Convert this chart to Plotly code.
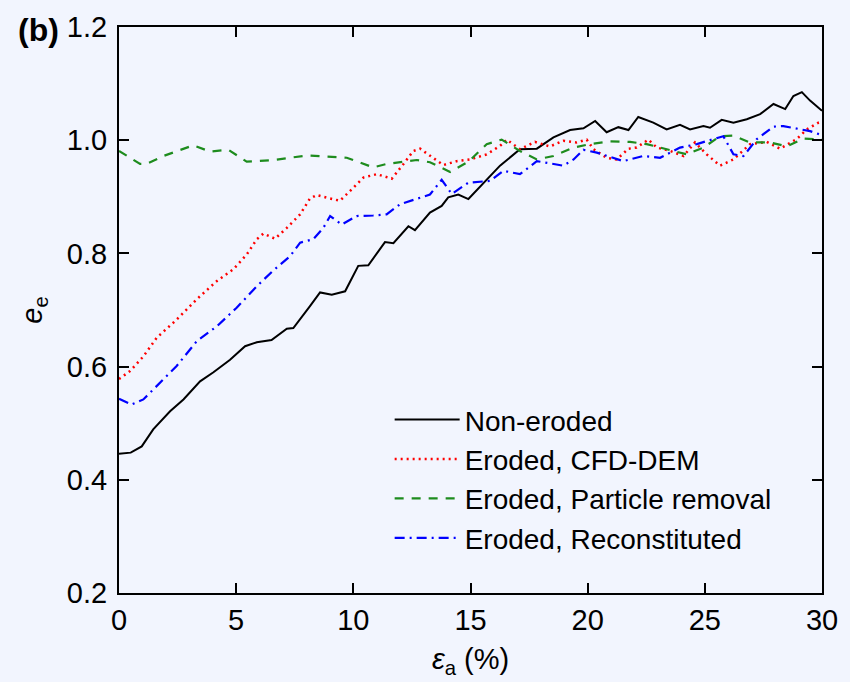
import plotly.graph_objects as go

x_non = [0.0, 0.5, 0.97, 1.46, 2.18, 2.75, 3.46, 4.03, 4.74, 5.38, 5.88, 6.51, 7.16, 7.44, 8.15, 8.58, 9.08, 9.65,
         10.21, 10.64, 11.35, 11.71, 12.35, 12.63, 13.27, 13.77, 14.05, 14.48, 14.91, 15.69, 16.26, 17.11, 17.83,
         18.54, 19.25, 19.82, 20.32, 20.81, 21.31, 21.74, 22.16, 22.8, 23.37, 23.94, 24.37, 24.94, 25.22, 25.72,
         26.22, 26.79, 27.36, 27.93, 28.43, 28.78, 29.14, 29.49, 30.0]
y_non = [0.446, 0.448, 0.459, 0.489, 0.521, 0.542, 0.574, 0.590, 0.612, 0.636, 0.643, 0.647, 0.667, 0.668, 0.707,
         0.731, 0.727, 0.733, 0.778, 0.779, 0.820, 0.818, 0.848, 0.841, 0.872, 0.884, 0.899, 0.904, 0.896, 0.931,
         0.955, 0.984, 0.985, 1.005, 1.018, 1.021, 1.034, 1.014, 1.023, 1.018, 1.041, 1.031, 1.019, 1.027, 1.019,
         1.025, 1.022, 1.036, 1.031, 1.037, 1.046, 1.064, 1.055, 1.078, 1.085, 1.070, 1.052]

x_cfd = [0.0, 0.47, 1.04, 1.61, 2.46, 3.32, 4.17, 4.88, 5.45, 5.88, 6.16, 6.66, 7.16, 7.73, 8.15, 8.44, 9.01, 9.43,
         10.0, 10.43, 11.0, 11.64, 12.14, 12.56, 12.85, 13.42, 13.84, 14.41, 14.98, 15.69, 16.26, 16.55, 17.11,
         17.75, 18.39, 18.96, 19.53, 19.96, 20.25, 20.81, 21.24, 21.74, 22.09, 22.59, 22.95, 23.52, 24.09, 24.58,
         25.08, 25.65, 26.22, 26.93, 27.64, 28.21, 28.92, 29.35, 29.85, 30.0]
y_cfd = [0.578, 0.592, 0.618, 0.651, 0.683, 0.719, 0.751, 0.772, 0.798, 0.825, 0.835, 0.826, 0.845, 0.869, 0.897,
         0.903, 0.897, 0.893, 0.916, 0.934, 0.940, 0.932, 0.958, 0.981, 0.985, 0.968, 0.956, 0.963, 0.966, 0.975,
         0.990, 1.001, 0.984, 0.997, 0.989, 0.999, 0.996, 1.001, 0.984, 0.969, 0.966, 0.985, 0.987, 1.001, 0.987,
         0.981, 0.972, 0.996, 0.975, 0.955, 0.966, 0.993, 0.997, 0.985, 1.002, 1.019, 1.031, 1.033]

x_pr = [0.0, 0.9, 1.18, 1.89, 3.17, 3.88, 4.67, 5.45, 6.59, 8.01, 9.72, 10.85, 11.42, 12.71, 13.27, 14.13, 14.91,
        15.69, 16.33, 17.11, 17.83, 18.54, 19.4, 20.1, 20.95, 21.81, 22.52, 23.37, 24.23, 24.94, 25.65, 26.22,
        26.93, 27.78, 28.5, 29.21, 30.0]
y_pr = [0.981, 0.958, 0.958, 0.972, 0.991, 0.980, 0.983, 0.962, 0.965, 0.973, 0.969, 0.952, 0.958, 0.965, 0.961,
        0.944, 0.962, 0.993, 1.001, 0.981, 0.966, 0.972, 0.987, 0.993, 0.998, 0.997, 0.993, 0.984, 0.975, 0.987,
        1.007, 1.008, 0.996, 0.996, 0.989, 1.003, 1.001]

x_rec = [0.0, 0.54, 1.04, 1.75, 2.46, 3.32, 4.17, 5.02, 5.88, 6.59, 7.3, 7.73, 8.29, 8.72, 9.01, 9.5, 10.14, 10.85,
         11.42, 12.0, 12.71, 13.27, 13.77, 14.2, 14.91, 15.83, 16.4, 17.11, 17.83, 18.54, 18.96, 19.4, 19.82,
         20.39, 20.95, 21.52, 22.37, 23.09, 23.94, 24.66, 25.36, 25.79, 26.22, 26.65, 27.22, 27.93, 28.35, 29.06,
         29.49, 30.0]
y_rec = [0.543, 0.533, 0.542, 0.571, 0.601, 0.645, 0.671, 0.704, 0.742, 0.770, 0.795, 0.819, 0.825, 0.845, 0.866,
         0.851, 0.866, 0.867, 0.869, 0.887, 0.896, 0.904, 0.930, 0.905, 0.925, 0.928, 0.946, 0.940, 0.963, 0.958,
         0.955, 0.966, 0.983, 0.978, 0.971, 0.963, 0.972, 0.969, 0.987, 0.993, 1.002, 1.007, 0.975, 0.972, 1.002,
         1.024, 1.025, 1.019, 1.016, 1.009]

names = ["Non-eroded", "Eroded, CFD-DEM", "Eroded, Particle removal", "Eroded, Reconstituted"]
x_ticks = [0, 5, 10, 15, 20, 25, 30]
y_ticks = [0.2, 0.4, 0.6, 0.8, 1.0, 1.2]

BG = "#F2F5FE"
FONT = "Liberation Sans, Arial, sans-serif"

fig = go.Figure()
fig.add_trace(go.Scatter(x=x_non, y=y_non, mode="lines", name=names[0],
                         line=dict(color="black", width=2)))
fig.add_trace(go.Scatter(x=x_cfd, y=y_cfd, mode="lines", name=names[1],
                         line=dict(color="#FF0000", width=2.5, dash="2px,4px")))
fig.add_trace(go.Scatter(x=x_pr, y=y_pr, mode="lines", name=names[2],
                         line=dict(color="#1E8C1E", width=2.2, dash="9px,8px")))
fig.add_trace(go.Scatter(x=x_rec, y=y_rec, mode="lines", name=names[3],
                         line=dict(color="#0000FF", width=2.2, dash="10px,5px,2px,5px")))

axis_common = dict(showgrid=False, zeroline=False, showline=True, linecolor="black", linewidth=2,
                   mirror="ticks", ticks="inside", ticklen=10, tickwidth=2, tickcolor="black",
                   tickfont=dict(family=FONT, size=29, color="black"))

fig.update_xaxes(range=[0, 30], tickvals=x_ticks, ticktext=[str(v) for v in x_ticks],
                 title=dict(text="<i>ε</i><sub>a</sub> (%)", font=dict(family=FONT, size=29, color="black"),
                            standoff=14),
                 ticklabelstandoff=0, **axis_common)
fig.update_yaxes(range=[0.2, 1.2], tickvals=y_ticks, ticktext=[f"{v:.1f}" for v in y_ticks],
                 title=dict(text="<i>e</i><sub>e</sub>", font=dict(family=FONT, size=29, color="black"),
                            standoff=16),
                 ticklabelstandoff=4, **axis_common)

fig.add_annotation(text="<b>(b)</b>", xref="paper", yref="paper", x=-0.146, y=0.995,
                   xanchor="left", yanchor="middle", showarrow=False,
                   font=dict(family=FONT, size=32, color="black"))

fig.update_layout(
    width=850, height=682,
    margin=dict(l=119, r=28, t=27, b=89),
    paper_bgcolor=BG, plot_bgcolor=BG,
    font=dict(family=FONT, size=29, color="black"),
    legend=dict(x=0.385, y=0.35, xanchor="left", yanchor="top", bgcolor="rgba(0,0,0,0)",
                font=dict(family=FONT, size=28, color="black"), itemwidth=65, tracegroupgap=0),
    showlegend=True,
)

fig.write_html("out.html")
